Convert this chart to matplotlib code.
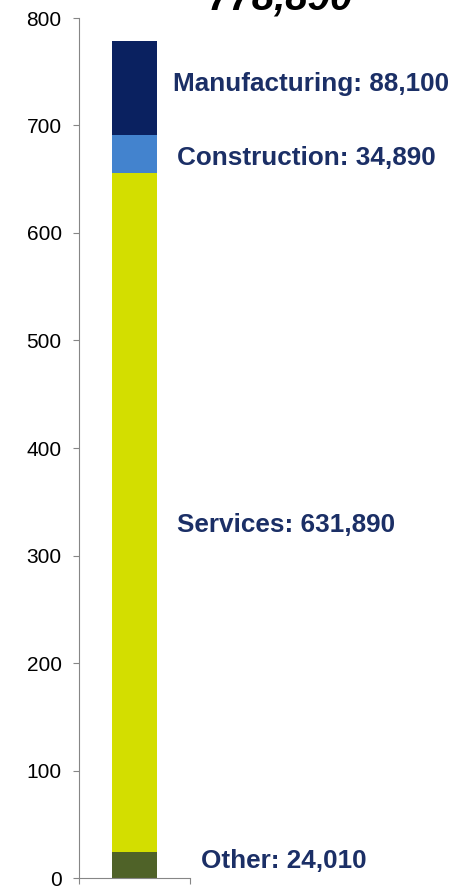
import matplotlib
matplotlib.use("Agg")
import matplotlib.pyplot as plt

plt.rcParams['font.family'] = ['Liberation Sans', 'DejaVu Sans']

# values in thousands, bottom to top
sectors = ["Other", "Services", "Construction", "Manufacturing"]
values = [24.010, 631.890, 34.890, 88.100]
colors = ["#4F6228", "#D3DE00", "#4383CE", "#0A2160"]
total_label = "778,890"
label_x = [0.60, 0.383, 0.383, 0.347]
label_dy = [4, -12, -4, 4]

fig = plt.figure(figsize=(4.57, 8.88), dpi=100)
ax = fig.add_axes([79 / 457, 10 / 888, 111 / 457, 860 / 888])

bottom = 0
for name, val, col, lx, dy in zip(sectors, values, colors, label_x, label_dy):
    ax.bar(0, val, width=0.414, bottom=bottom, color=col, edgecolor="none")
    ax.text(lx, bottom + val / 2 + dy, f"{name}: {val * 1000:,.0f}",
            ha="left", va="center", fontsize=18.8, fontweight="bold",
            color="#1B2F66", clip_on=False)
    bottom += val

ax.text(1.31, 818, total_label, ha="center", va="center", fontsize=29,
        fontweight="bold", fontstyle="italic", color="black", clip_on=False)

ax.set_xlim(-0.5, 0.5)
ax.set_ylim(0, 800)
ax.set_yticks(range(0, 801, 100))
ax.set_xticks([-0.5, 0.5])
ax.set_xticklabels([])
ax.tick_params(axis="y", labelsize=15, length=4.5, pad=8, color="#868686")
ax.tick_params(axis="x", length=4.5, color="#868686")
for s in ["top", "right"]:
    ax.spines[s].set_visible(False)
for s in ["left", "bottom"]:
    ax.spines[s].set_color("#868686")

fig.savefig("out.png", dpi=100)
